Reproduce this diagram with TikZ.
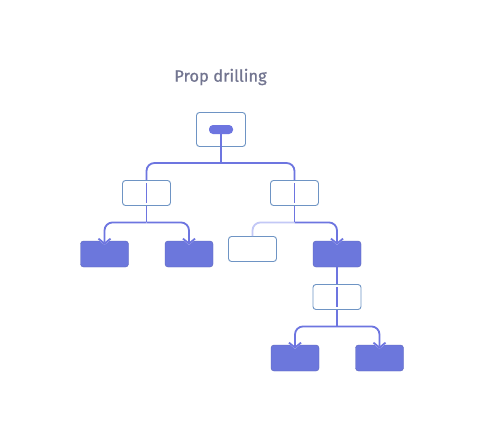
\documentclass[tikz,border=0pt]{standalone}
\usepackage{fontspec}
\setmainfont{Fira Sans}
\newfontfamily\titlefont{Fira Sans}[FakeBold=0.8]
\usetikzlibrary{arrows.meta,calc}
\definecolor{Wire}{HTML}{6D75E0}
\definecolor{Leaf}{HTML}{6C77DC}
\definecolor{Edge}{HTML}{6E94C4}
\definecolor{Faint}{HTML}{C3C8F6}
\definecolor{Title}{HTML}{727590}

\begin{document}
\begin{tikzpicture}[x=1pt,y=-1pt,
  frame/.style={draw=Edge,line width=0.9pt,fill=white,rounded corners=3pt,inner sep=0pt,minimum width=48pt,minimum height=25pt},
  leaf/.style={fill=Leaf,draw=Leaf!85!black,line width=0.4pt,rounded corners=3pt,inner sep=0pt,minimum width=48pt,minimum height=26pt},
  wire/.style={draw=Wire,line width=1.8pt,rounded corners=8pt},
  feed/.style={wire,-{Straight Barb[length=5pt,width=12pt]},shorten >=-4pt,
    preaction={draw=white,line width=5pt,-{Straight Barb[length=5pt,width=12pt]}}}]
  \fill[white] (0,0) rectangle (480,437);
  \useasboundingbox (0,0) rectangle (480,437);
  \node[text=Title,font=\titlefont\fontsize{16.5}{19}\selectfont] (title) at (220.5,77) {Prop drilling};
  % boxes
  \node[frame,minimum width=49pt,minimum height=34pt] (root) at (221,129.5) {};
  \node[fill=Wire,rounded corners=4pt,minimum width=24pt,minimum height=9pt,inner sep=0pt] (pill) at (221,129.5) {};
  \node[frame] (midL) at (146.5,193) {};
  \node[frame] (midR) at (294.5,193) {};
  \node[leaf] (leafA) at (104.5,254) {};
  \node[leaf] (leafB) at (189,254) {};
  \node[frame] (spare) at (252.5,249) {};
  \node[leaf] (leafD) at (337,254) {};
  \node[frame] (midD) at (337,297) {};
  \node[leaf] (leafE) at (295,358) {};
  \node[leaf] (leafF) at (379.5,358) {};
  % branch points
  \coordinate (bTop) at (221,163);
  \coordinate (bL) at ($(midL.south)+(0,16.5)$);
  \coordinate (bM) at ($(midR.south)+(0,16.5)$);
  \coordinate (bD) at ($(midD.south)+(0,16.5)$);
  % wires
  \draw[wire] (bTop) -| (midL.north);
  \draw[wire] (bTop) -| (midR.north);
  \draw[wire] (pill.south) -- (bTop);
  \draw[wire] ($(midL.north)+(0,3)$) -- ($(midL.south)+(0,-3)$);
  \draw[wire] ($(midR.north)+(0,3)$) -- ($(midR.south)+(0,-3)$);
  \draw[wire] ($(midD.north)+(0,3)$) -- ($(midD.south)+(0,-3)$);
  \draw[feed] (bL) -| (leafA.north);
  \draw[feed] (bL) -| (leafB.north);
  \draw[wire] (midL.south) -- (bL);
  \draw[wire,draw=Faint] (bM) -| (spare.north);
  \draw[feed] (bM) -| (leafD.north);
  \draw[wire] (midR.south) -- (bM);
  \draw[wire] (leafD.south) -- (midD.north);
  \draw[feed] (bD) -| (leafE.north);
  \draw[feed] (bD) -| (leafF.north);
  \draw[wire] (midD.south) -- (bD);
\end{tikzpicture}
\end{document}
